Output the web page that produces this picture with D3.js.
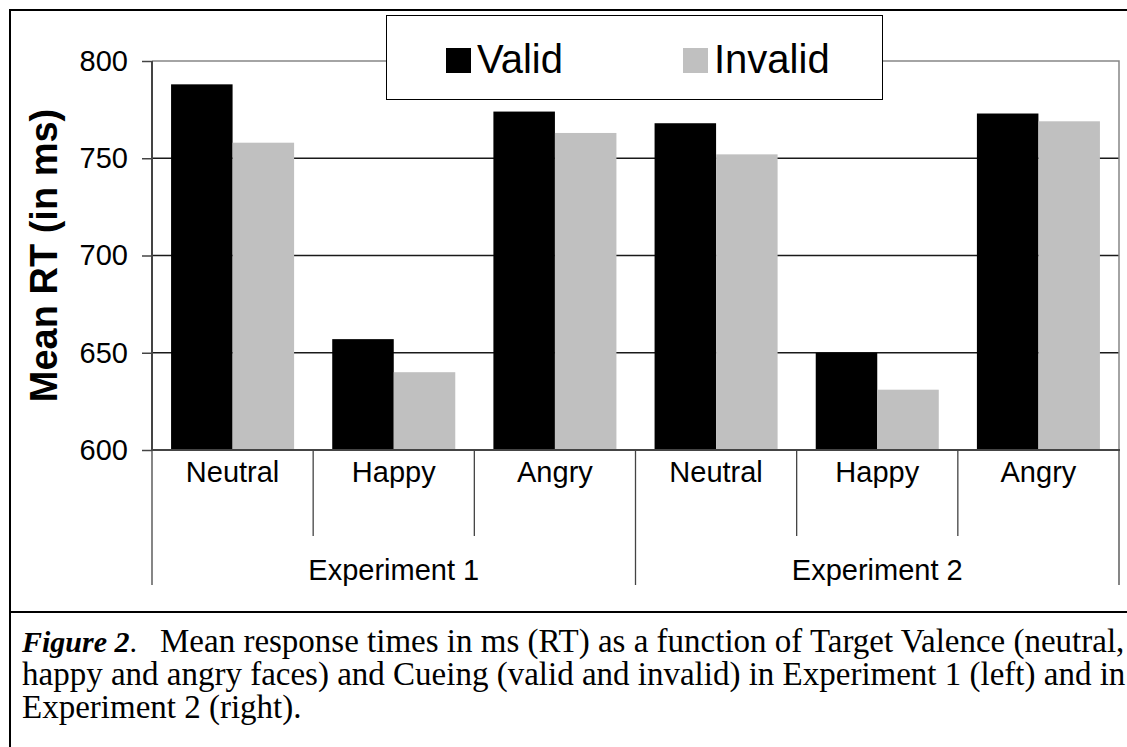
<!DOCTYPE html>
<html>

<head>
  <meta charset="utf-8">
  <title>Mean RT by target valence and cueing</title>
  <style>
  body{
    margin: 0;
    background: #fff;
  }
  svg{
    display: block;
  }
  </style>
</head>

<body>
  <svg width="1127" height="747"></svg>
  <script src="https://d3js.org/d3.v7.min.js"></script>
  <script>
    // values
    var experiments = ["Experiment 1", "Experiment 2"];
    var valences = ["Neutral", "Happy", "Angry"];
    var seriesNames = ["Valid", "Invalid"];
    var validRT = [788, 657, 774, 768, 650, 773];
    var invalidRT = [758, 640, 763, 752, 631, 769];
    var yTicks = [600, 650, 700, 750, 800];
    var captionLines = [
      "Mean response times in ms (RT) as a function of Target Valence (neutral,",
      "happy and angry faces) and Cueing (valid and invalid) in Experiment 1 (left) and in",
      "Experiment 2 (right)."
    ];

    var rows = [];
    experiments.forEach(function (exp, e) {
      valences.forEach(function (v, i) {
        var k = e * valences.length + i;
        rows.push({ id: k, exp: exp, valence: v, Valid: validRT[k], Invalid: invalidRT[k] });
      });
    });

    var fillScale = d3.scaleOrdinal().domain(seriesNames).range(["#000000", "#c0c0c0"]);
    var xScale = d3.scaleBand().domain(rows.map(d => d.id)).range([152, 1119]).padding(0);
    var xInner = d3.scaleBand().domain(seriesNames).range([0, xScale.bandwidth()])
      .paddingInner(0).paddingOuter(0.31);
    var yScale = d3.scaleLinear().domain([600, 800]).range([450, 61]);

    var svg = d3.select("svg");
    var sans = "Arial, 'Liberation Sans', sans-serif";
    var serif = "'Times New Roman', 'Liberation Serif', serif";

    // outer frame + caption box
    svg.append("path")
      .attr("d", "M1130,10 H10 V747")
      .attr("fill", "none")
      .attr("stroke", "#000")
      .attr("stroke-width", 2);
    svg.append("line")
      .attr("x1", 10).attr("x2", 1130)
      .attr("y1", 612).attr("y2", 612)
      .attr("stroke", "#000")
      .attr("stroke-width", 2);

    // gridlines
    svg.append("g")
      .selectAll("line")
      .data(yTicks.slice(1, -1))
      .join("line")
      .attr("x1", 152).attr("x2", 1119)
      .attr("y1", d => yScale(d)).attr("y2", d => yScale(d))
      .attr("stroke", "#1a1a1a")
      .attr("stroke-width", 1.3);

    // plot area border (gray)
    svg.append("path")
      .attr("d", "M152," + yScale(800) + " H1119 V" + yScale(600))
      .attr("fill", "none")
      .attr("stroke", "#868686")
      .attr("stroke-width", 1.5);

    // bars
    var groups = svg.append("g")
      .selectAll("g")
      .data(rows)
      .join("g")
      .attr("transform", d => "translate(" + xScale(d.id) + ",0)");
    groups.selectAll("rect")
      .data(d => seriesNames.map(s => ({ key: s, value: d[s] })))
      .join("rect")
      .attr("x", d => xInner(d.key))
      .attr("width", xInner.bandwidth())
      .attr("y", d => yScale(d.value))
      .attr("height", d => yScale(600) - yScale(d.value))
      .attr("fill", d => fillScale(d.key));

    // y axis
    var yAxis = d3.axisLeft(yScale).tickValues(yTicks).tickSize(10).tickPadding(14);
    var yg = svg.append("g")
      .attr("transform", "translate(152,0)")
      .call(yAxis);
    yg.select(".domain").remove();
    yg.selectAll(".tick line").attr("stroke", "#444").attr("stroke-width", 1.5);
    yg.selectAll(".tick text")
      .attr("fill", "#000")
      .style("font-family", sans)
      .style("font-size", "29px");
    svg.append("line")
      .attr("x1", 152).attr("x2", 152)
      .attr("y1", yScale(800)).attr("y2", yScale(600))
      .attr("stroke", "#444")
      .attr("stroke-width", 2);

    // baseline
    svg.append("line")
      .attr("x1", 152).attr("x2", 1120)
      .attr("y1", yScale(600)).attr("y2", yScale(600))
      .attr("stroke", "#444")
      .attr("stroke-width", 2);

    // category separators: short between valences, long between experiments
    var seps = d3.range(rows.length + 1);
    svg.append("g")
      .selectAll("line")
      .data(seps)
      .join("line")
      .attr("x1", d => d < rows.length ? xScale(d) : xScale.range()[1])
      .attr("x2", d => d < rows.length ? xScale(d) : xScale.range()[1])
      .attr("y1", yScale(600))
      .attr("y2", d => d % valences.length === 0 ? 585 : 536)
      .attr("stroke", "#444")
      .attr("stroke-width", 1.3);

    // valence labels
    svg.append("g")
      .selectAll("text")
      .data(rows)
      .join("text")
      .attr("x", d => xScale(d.id) + xScale.bandwidth() / 2)
      .attr("y", 482)
      .attr("text-anchor", "middle")
      .style("font-family", sans)
      .style("font-size", "29px")
      .text(d => d.valence);

    // experiment labels
    svg.append("g")
      .selectAll("text")
      .data(experiments)
      .join("text")
      .attr("x", (d, e) => {
        var a = xScale(e * valences.length);
        var b = xScale((e + 1) * valences.length - 1) + xScale.bandwidth();
        return (a + b) / 2;
      })
      .attr("y", 580)
      .attr("text-anchor", "middle")
      .style("font-family", sans)
      .style("font-size", "29px")
      .text(d => d);

    // y title
    svg.append("text")
      .attr("transform", "translate(57," + (yScale(700)) + ") rotate(-90)")
      .attr("text-anchor", "middle")
      .style("font-family", sans)
      .style("font-size", "38px")
      .style("font-weight", "bold")
      .text("Mean RT (in ms)");

    // legend
    var legend = svg.append("g");
    legend.append("rect")
      .attr("x", 386.5).attr("y", 15.5)
      .attr("width", 496).attr("height", 84)
      .attr("fill", "#fff")
      .attr("stroke", "#000")
      .attr("stroke-width", 1);
    var items = legend.selectAll("g.item")
      .data(seriesNames)
      .join("g")
      .attr("class", "item")
      .attr("transform", (d, i) => "translate(" + (446 + i * 237) + ",48)");
    items.append("rect")
      .attr("width", 25).attr("height", 25)
      .attr("fill", d => fillScale(d));
    items.append("text")
      .attr("x", 31).attr("y", 25)
      .style("font-family", sans)
      .style("font-size", "40px")
      .text(d => d);

    // caption
    var cap = svg.append("text")
      .style("font-family", serif)
      .style("font-size", "33px");
    cap.selectAll("tspan")
      .data(captionLines)
      .join("tspan")
      .attr("x", (d, i) => i === 0 ? 160 : 22)
      .attr("y", (d, i) => 652 + i * 33)
      .text(d => d);
    svg.append("text")
      .attr("x", 22).attr("y", 652)
      .style("font-family", serif)
      .style("font-size", "30px")
      .style("font-weight", "bold")
      .style("font-style", "italic")
      .text("Figure 2")
      .append("tspan")
      .style("font-weight", "normal")
      .style("font-style", "normal")
      .text(".");
  </script>

</body>

</html>
